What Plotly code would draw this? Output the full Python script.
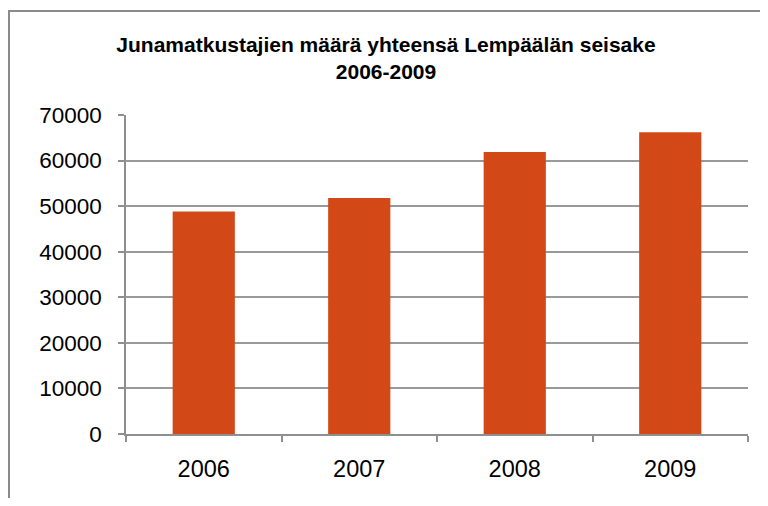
import plotly.graph_objects as go

years = ["2006", "2007", "2008", "2009"]
passengers = [48800, 51800, 61900, 66200]
y_ticks = [0, 10000, 20000, 30000, 40000, 50000, 60000, 70000]
title_text = "Junamatkustajien määrä yhteensä Lempäälän seisake<br>2006-2009"

# the page has an 8px body margin, so the figure starts at (8, 8);
# keep it inside the 768x506 window so no scrollbars appear
OFF = 8
W, H = 768 - 2 * OFF, 506 - 2 * OFF
ml = 126 - OFF
mt = 115 - OFF
mr = (W + OFF) - 748
mb = (H + OFF) - 434
pw, ph = W - ml - mr, H - mt - mb

def px_x(x):
    return (x - OFF - ml) / pw

def px_y(y):
    return (H - mb - (y - OFF)) / ph

fig = go.Figure()
fig.add_trace(go.Bar(x=years, y=passengers, marker=dict(color="#D24817", line=dict(width=0)),
                     hoverinfo="x+y"))

fig.update_layout(
    width=W, height=H,
    margin=dict(l=ml, r=mr, t=mt, b=mb),
    paper_bgcolor="white", plot_bgcolor="white",
    bargap=0.6,
    showlegend=False,
    font=dict(family="Liberation Sans, Arial, sans-serif", color="#000000"),
    title=dict(text="<b>" + title_text + "</b>", xref="container", x=(386 - OFF) / W, xanchor="center",
               yref="container", y=1 - (52 - OFF) / H, yanchor="middle",
               font=dict(size=21, family="Liberation Sans, Arial, sans-serif", color="#000")),
    xaxis=dict(type="category", showline=True, linecolor="#8f8f8f", linewidth=1.5,
               ticks="outside", tickson="boundaries", ticklen=6, tickcolor="#8f8f8f", tickwidth=1.5,
               tickfont=dict(size=23.5), ticklabelstandoff=13, showgrid=False),
    yaxis=dict(range=[0, 70000], tickvals=y_ticks, ticktext=[str(v) for v in y_ticks],
               showline=True, linecolor="#8f8f8f", linewidth=1.5,
               ticks="outside", ticklen=6, tickcolor="#8f8f8f", tickwidth=1.5,
               showgrid=True, gridcolor="#999999", gridwidth=1.5, zeroline=False,
               tickfont=dict(size=22.5), ticklabelstandoff=12),
)

fig.add_shape(type="rect", xref="paper", yref="paper",
              x0=px_x(9), x1=px_x(790), y0=px_y(530), y1=px_y(11),
              line=dict(color="#8a8a8a", width=2), fillcolor="rgba(0,0,0,0)", layer="below")

fig.write_html("out.html")
